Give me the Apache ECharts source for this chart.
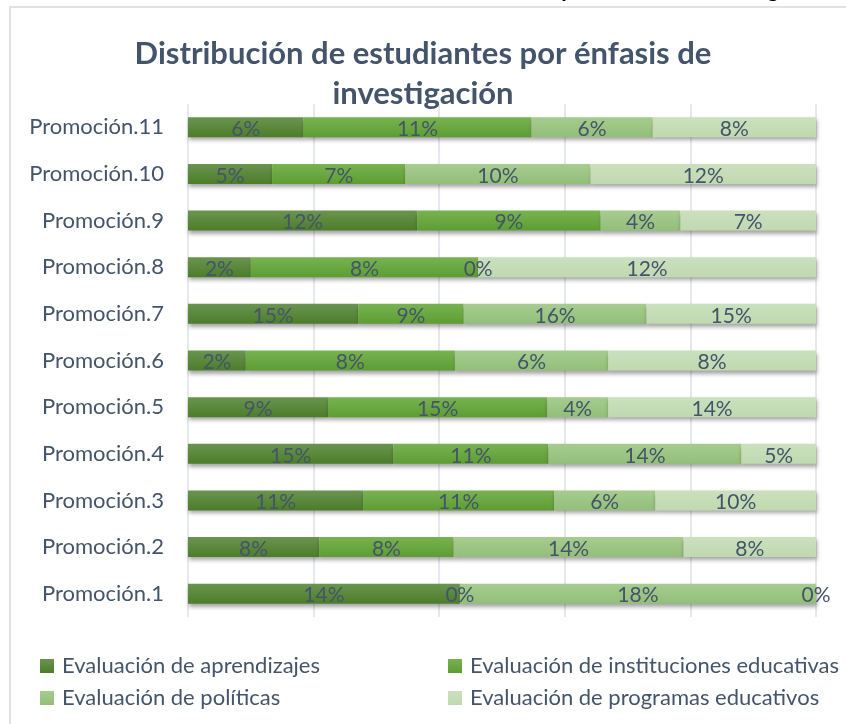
<!DOCTYPE html>
<html>
<head>
<meta charset="utf-8">
<script src="https://cdn.jsdelivr.net/npm/echarts@6/dist/echarts.min.js"></script>
<style>
  html, body { margin: 0; padding: 0; background: #ffffff; }
  #chart { width: 846px; height: 724px; }
</style>
</head>
<body>
<div id="chart"></div>
<script>
// Categories, bottom to top
const categories = [
  "Promoción.1", "Promoción.2", "Promoción.3", "Promoción.4", "Promoción.5", "Promoción.6",
  "Promoción.7", "Promoción.8", "Promoción.9", "Promoción.10", "Promoción.11"
];

const seriesNames = [
  "Evaluación de aprendizajes",
  "Evaluación de instituciones educativas",
  "Evaluación de políticas",
  "Evaluación de programas educativos"
];

// Printed percentages (data labels)
const aprendizajesLabel = [14, 8, 11, 15, 9, 2, 15, 2, 12, 5, 6];
const institucionesLabel = [0, 8, 11, 11, 15, 8, 9, 8, 9, 7, 11];
const politicasLabel = [18, 14, 6, 14, 4, 6, 16, 0, 4, 10, 6];
const programasLabel = [0, 8, 10, 5, 14, 8, 15, 12, 7, 12, 8];

// Share of each bar (100% stacked)
const aprendizajesShare = [43.3, 20.9, 27.9, 32.7, 22.3, 9.2, 27.1, 10.0, 36.5, 13.4, 18.4];
const institucionesShare = [0, 21.4, 30.4, 24.7, 34.9, 33.3, 16.8, 36.2, 29.2, 21.2, 36.3];
const politicasShare = [56.7, 36.6, 16.1, 30.7, 9.7, 24.4, 29.1, 0, 12.7, 29.5, 19.3];
const programasShare = [0, 21.1, 25.6, 11.9, 33.1, 33.1, 27.0, 53.8, 21.6, 35.9, 26.0];

const xTicks = [0, 20, 40, 60, 80, 100];

const shares = [aprendizajesShare, institucionesShare, politicasShare, programasShare];
const labels = [aprendizajesLabel, institucionesLabel, politicasLabel, programasLabel];

// top / bottom of the gradient for each series
const gradients = [
  ["#6a9450", "#4c7d29"],
  ["#78b251", "#5d9d32"],
  ["#a6cc8f", "#93bf79"],
  ["#cbe0be", "#c0d9b0"]
];

const FONT = "Lato, 'Open Sans', sans-serif";
const TEXT = "#44546A";

const chart = echarts.init(document.getElementById("chart"));

const series = seriesNames.map((name, i) => ({
  name: name,
  type: "bar",
  stack: "total",
  barWidth: 20,
  itemStyle: {
    color: new echarts.graphic.LinearGradient(0, 0, 0, 1, [
      { offset: 0, color: gradients[i][0] },
      { offset: 1, color: gradients[i][1] }
    ]),
    shadowColor: "rgba(0, 0, 0, 0.35)",
    shadowBlur: 4,
    shadowOffsetX: 1,
    shadowOffsetY: 3
  },
  label: {
    show: true,
    position: "inside",
    color: TEXT,
    fontFamily: FONT,
    fontSize: 21,
    offset: [0, 2],
    formatter: p => labels[i][p.dataIndex] + "%"
  },
  emphasis: { disabled: true },
  data: shares[i]
}));

const legendBase = {
  orient: "vertical",
  top: 655,
  padding: 0,
  itemWidth: 14,
  itemHeight: 14,
  itemGap: 10,
  icon: "rect",
  textStyle: { color: TEXT, fontFamily: FONT, fontSize: 22, padding: [0, 0, 0, 3] }
};

const option = {
  animation: false,
  textStyle: { fontFamily: FONT },
  title: {
    text: "Distribución de estudiantes por énfasis de\ninvestigación",
    left: "center",
    top: 29,
    textStyle: {
      color: TEXT,
      fontFamily: FONT,
      fontSize: 31,
      fontWeight: "bold",
      lineHeight: 40
    }
  },
  legend: [
    Object.assign({}, legendBase, { data: [seriesNames[0], seriesNames[2]], left: 40 }),
    Object.assign({}, legendBase, { data: [seriesNames[1], seriesNames[3]], left: 448 })
  ],
  grid: {
    left: 188,
    right: 30,
    top: 104,
    bottom: 107,
    containLabel: false
  },
  xAxis: {
    type: "value",
    min: xTicks[0],
    max: xTicks[xTicks.length - 1],
    interval: xTicks[1] - xTicks[0],
    axisLabel: { show: false },
    axisLine: { show: false },
    axisTick: { show: false },
    splitLine: { lineStyle: { color: "#DCE1E8", width: 1.5 } }
  },
  yAxis: {
    type: "category",
    data: categories,
    axisLine: { show: false },
    axisTick: { show: false },
    axisLabel: {
      color: TEXT,
      fontFamily: FONT,
      fontSize: 22,
      margin: 24
    }
  },
  graphic: [
    // chart frame
    {
      type: "rect",
      shape: { x: 10, y: 7, width: 860, height: 740 },
      style: { fill: "none", stroke: "#D9D9D9", lineWidth: 1.5 },
      silent: true
    },
    // cropped heading above the frame
    {
      type: "text",
      left: 288,
      top: -21,
      style: {
        text: "Distribución de estudiantes por énfasis de investigación",
        fill: "#000000",
        font: "bold 22px " + FONT
      },
      silent: true
    }
  ],
  series: series
};

chart.setOption(option);
</script>
</body>
</html>
